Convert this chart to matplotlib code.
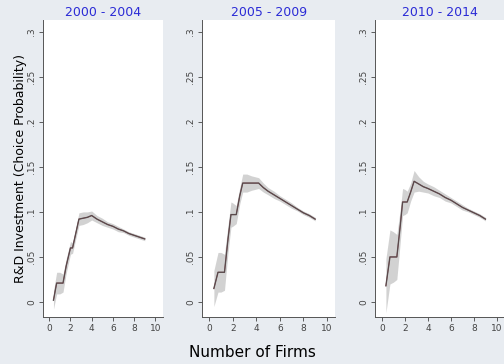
import matplotlib
matplotlib.use('Agg')
import matplotlib.pyplot as plt
import numpy as np

# ---- data ----
titles = ['2000 - 2004', '2005 - 2009', '2010 - 2014']

x1 = [0.4, 0.7, 1.0, 1.3, 1.6, 2.0, 2.2, 2.5, 2.8, 3.2, 3.6, 4.0, 4.5, 5.0, 5.5, 6.0, 6.5, 7.0, 7.5, 8.0, 8.5, 9.0]
y1 = [0.002, 0.021, 0.021, 0.021, 0.040, 0.060, 0.060, 0.076, 0.092, 0.093, 0.094, 0.096, 0.092, 0.089,
      0.086, 0.084, 0.081, 0.079, 0.076, 0.074, 0.072, 0.070]
w1 = [0.010, 0.012, 0.012, 0.010, 0.008, 0.007, 0.006, 0.006, 0.007, 0.007, 0.006, 0.005, 0.004, 0.004,
      0.003, 0.003, 0.003, 0.002, 0.002, 0.002, 0.002, 0.002]

x2 = [0.4, 0.75, 1.0, 1.3, 1.6, 1.85, 2.0, 2.3, 2.6, 2.85, 3.2, 3.6, 4.2, 4.6, 5.0, 5.5, 6.0, 6.5, 7.0,
      7.5, 8.0, 8.5, 9.0]
y2 = [0.015, 0.033, 0.033, 0.033, 0.070, 0.097, 0.097, 0.097, 0.118, 0.132, 0.132, 0.132, 0.132, 0.127,
      0.123, 0.119, 0.115, 0.111, 0.107, 0.103, 0.099, 0.096, 0.092]
w2 = [0.020, 0.022, 0.022, 0.020, 0.015, 0.014, 0.013, 0.010, 0.009, 0.010, 0.010, 0.008, 0.006, 0.005,
      0.004, 0.004, 0.003, 0.003, 0.003, 0.002, 0.002, 0.002, 0.002]

x3 = [0.35, 0.7, 1.0, 1.3, 1.6, 1.8, 2.0, 2.2, 2.5, 2.8, 3.2, 3.6, 4.0, 4.5, 5.0, 5.5, 6.0, 6.5, 7.0,
      7.5, 8.0, 8.5, 9.0]
y3 = [0.018, 0.050, 0.050, 0.050, 0.085, 0.111, 0.111, 0.111, 0.122, 0.134, 0.131, 0.128, 0.126, 0.123,
      0.120, 0.116, 0.113, 0.109, 0.105, 0.102, 0.099, 0.096, 0.092]
w3 = [0.030, 0.030, 0.028, 0.025, 0.018, 0.015, 0.014, 0.012, 0.010, 0.012, 0.008, 0.006, 0.005, 0.005,
      0.004, 0.004, 0.003, 0.003, 0.003, 0.002, 0.002, 0.002, 0.002]

xs = [x1, x2, x3]
ys = [y1, y2, y3]
ws = [w1, w2, w3]

yticks = [0, 0.05, 0.1, 0.15, 0.2, 0.25, 0.3]
ytick_labels = ['0', '.05', '.1', '.15', '.2', '.25', '.3']
xticks = [0, 2, 4, 6, 8, 10]

BG = '#e8ecf1'
fig = plt.figure(figsize=(5.04, 3.64), dpi=100, facecolor=BG)

# panel boxes in figure fractions
lefts = [0.085, 0.401, 0.744]
widths = [0.238, 0.264, 0.258]

for i in range(3):
    ax = fig.add_axes([lefts[i], 0.129, widths[i], 0.816])
    ax.set_facecolor('white')
    x = np.array(xs[i])
    y = np.array(ys[i])
    w = np.array(ws[i])
    ax.fill_between(x, y - w, y + w, color='#c4c4c4', alpha=0.75, linewidth=0)
    ax.plot(x, y, color='#b03040', linewidth=0.6)
    ax.plot(x, y, color='#4a4a4a', linewidth=1.0, alpha=0.85)

    ax.set_xlim(-0.6, 10.7)
    ax.set_ylim(-0.0167, 0.313)
    ax.set_yticks(yticks)
    ax.set_yticklabels(ytick_labels, rotation=90, va='center')
    ax.set_xticks(xticks)
    ax.tick_params(labelsize=6.5, colors='#444444', length=3, width=0.6, pad=2)
    for s in ['top', 'right']:
        ax.spines[s].set_visible(False)
    for s in ['left', 'bottom']:
        ax.spines[s].set_color('#555555')
        ax.spines[s].set_linewidth(0.7)
    ax.set_title(titles[i], color='#2b2bd6', fontsize=9, pad=3)
    if i == 0:
        ax.set_ylabel('R&D Investment (Choice Probability)', fontsize=9, labelpad=0)

fig.text(0.5, 0.012, 'Number of Firms', ha='center', va='bottom', fontsize=11)

fig.savefig('out.png', dpi=100, facecolor=BG)
